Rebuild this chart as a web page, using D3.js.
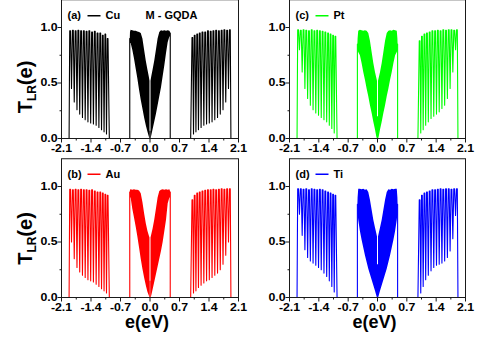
<!DOCTYPE html>
<html>
<head>
<meta charset="utf-8">
<script src="https://cdn.jsdelivr.net/npm/d3@7"></script>
<style>
  body { margin: 0; background: #fff; }
  text { font-family: "Liberation Sans", Arial, sans-serif; font-weight: bold; }
</style>
</head>
<body>
<svg id="chart" width="477" height="340"></svg>
<script>
// ---- axis ticks ----
const xTicks = [-2.1, -1.4, -0.7, 0.0, 0.7, 1.4, 2.1];
const xMinorTicks = [-1.75, -1.05, -0.35, 0.35, 1.05, 1.75];
const yTicks = [0.0, 0.5, 1.0];
const yMinorTicks = [0.25, 0.75];

// ---- series ----
const metals = ["Cu", "Pt", "Au", "Ti"];
const panelTags = ["(a)", "(c)", "(b)", "(d)"];
const metalColors = ["#000000", "#00ff00", "#ff0000", "#0000ff"];

// outer bands: band edges and resonance energies (eV)
const outerEdges = [-1.92, -0.965, 0.965, 1.92];
const outerPeaksLeft = [-1.895, -1.83, -1.765, -1.70, -1.635, -1.57, -1.505, -1.44, -1.375, -1.31, -1.245, -1.18, -1.12, -1.06, -1.005];
const outerPeaksRight = [1.005, 1.06, 1.12, 1.18, 1.245, 1.31, 1.375, 1.44, 1.505, 1.57, 1.635, 1.70, 1.765, 1.83, 1.895];

// Cu
const cuPeaksL = [0.97, 0.975, 0.97, 0.975, 0.97, 0.97, 0.965, 0.97, 0.96, 0.965, 0.95, 0.95, 0.93, 0.94, 0.90];
const cuValleysL = [0.45, 0.33, 0.26, 0.22, 0.19, 0.17, 0.15, 0.14, 0.13, 0.12, 0.10, 0.08, 0.06, 0.04];
const cuPeaksR = [0.91, 0.93, 0.94, 0.95, 0.96, 0.96, 0.97, 0.965, 0.97, 0.975, 0.97, 0.975, 0.98, 0.975, 0.98];
const cuValleysR = [0.04, 0.06, 0.08, 0.10, 0.12, 0.13, 0.14, 0.15, 0.17, 0.19, 0.22, 0.26, 0.33, 0.45];
// Pt
const ptPeaksL = [0.98, 0.975, 0.98, 0.975, 0.97, 0.98, 0.97, 0.975, 0.97, 0.965, 0.96, 0.95, 0.94, 0.93, 0.92];
const ptValleysL = [0.80, 0.60, 0.45, 0.36, 0.30, 0.26, 0.23, 0.21, 0.19, 0.17, 0.15, 0.12, 0.09, 0.05];
const ptPeaksR = [0.88, 0.92, 0.94, 0.95, 0.96, 0.97, 0.97, 0.975, 0.97, 0.98, 0.975, 0.98, 0.98, 0.975, 0.98];
const ptValleysR = [0.05, 0.08, 0.12, 0.15, 0.18, 0.20, 0.22, 0.24, 0.27, 0.30, 0.36, 0.45, 0.60, 0.80];
// Au
const auPeaksL = [0.975, 0.97, 0.975, 0.97, 0.975, 0.97, 0.97, 0.965, 0.97, 0.96, 0.95, 0.95, 0.94, 0.93, 0.92];
const auValleysL = [0.50, 0.35, 0.27, 0.23, 0.20, 0.18, 0.16, 0.15, 0.14, 0.12, 0.10, 0.08, 0.06, 0.04];
const auPeaksR = [0.88, 0.92, 0.94, 0.95, 0.96, 0.965, 0.97, 0.97, 0.975, 0.97, 0.975, 0.98, 0.975, 0.98, 0.98];
const auValleysR = [0.04, 0.06, 0.09, 0.11, 0.13, 0.15, 0.16, 0.18, 0.20, 0.22, 0.25, 0.30, 0.38, 0.50];
// Ti
const tiPeaksL = [0.98, 0.98, 0.975, 0.98, 0.97, 0.98, 0.975, 0.97, 0.975, 0.97, 0.96, 0.95, 0.94, 0.93, 0.92];
const tiValleysL = [0.75, 0.56, 0.43, 0.36, 0.33, 0.31, 0.29, 0.27, 0.25, 0.22, 0.19, 0.15, 0.10, 0.05];
const tiPeaksR = [0.88, 0.92, 0.94, 0.95, 0.96, 0.97, 0.97, 0.975, 0.98, 0.975, 0.98, 0.98, 0.975, 0.98, 0.98];
const tiValleysR = [0.04, 0.10, 0.16, 0.20, 0.24, 0.27, 0.29, 0.30, 0.31, 0.33, 0.36, 0.42, 0.53, 0.74];

// central band: envelope of the dense resonances, left and right lobes
const centerEL = [-0.48, -0.475, -0.46, -0.42, -0.38, -0.34, -0.30, -0.26, -0.22, -0.18, -0.14, -0.10, -0.06, -0.03, -0.012];
const centerER = [0.012, 0.03, 0.06, 0.10, 0.14, 0.18, 0.22, 0.26, 0.30, 0.34, 0.38, 0.42, 0.46, 0.475, 0.48];

const cuUpperL = [0.90, 0.96, 0.98, 0.975, 0.97, 0.97, 0.965, 0.96, 0.95, 0.90, 0.80, 0.70, 0.62, 0.56, 0.52];
const cuLowerL = [0.00, 0.86, 0.86, 0.80, 0.72, 0.63, 0.54, 0.44, 0.35, 0.27, 0.19, 0.12, 0.06, 0.02, 0.00];
const cuUpperR = [0.52, 0.56, 0.62, 0.70, 0.80, 0.90, 0.96, 0.975, 0.97, 0.975, 0.97, 0.975, 0.97, 0.96, 0.95];
const cuLowerR = [0.00, 0.03, 0.08, 0.15, 0.22, 0.30, 0.38, 0.46, 0.56, 0.66, 0.77, 0.87, 0.92, 0.92, 0.00];

const ptUpperL = [0.85, 0.90, 0.97, 0.98, 0.975, 0.97, 0.975, 0.97, 0.95, 0.88, 0.78, 0.68, 0.60, 0.55, 0.52];
const ptLowerL = [0.00, 0.80, 0.78, 0.75, 0.68, 0.60, 0.53, 0.45, 0.38, 0.30, 0.23, 0.15, 0.08, 0.02, 0.00];
const ptUpperR = [0.52, 0.55, 0.60, 0.68, 0.78, 0.88, 0.95, 0.97, 0.975, 0.97, 0.98, 0.975, 0.97, 0.90, 0.85];
const ptLowerR = [0.00, 0.02, 0.08, 0.15, 0.23, 0.30, 0.38, 0.45, 0.53, 0.60, 0.68, 0.75, 0.78, 0.80, 0.00];

const auUpperL = [0.95, 0.97, 0.975, 0.97, 0.975, 0.97, 0.97, 0.965, 0.94, 0.86, 0.76, 0.67, 0.60, 0.56, 0.54];
const auLowerL = [0.00, 0.90, 0.90, 0.80, 0.72, 0.64, 0.55, 0.45, 0.35, 0.26, 0.18, 0.11, 0.05, 0.02, 0.00];
const auUpperR = [0.54, 0.57, 0.62, 0.70, 0.80, 0.90, 0.96, 0.97, 0.975, 0.97, 0.975, 0.97, 0.975, 0.96, 0.95];
const auLowerR = [0.00, 0.02, 0.07, 0.14, 0.21, 0.28, 0.35, 0.42, 0.50, 0.60, 0.70, 0.85, 0.90, 0.90, 0.00];

const tiUpperL = [0.84, 0.90, 0.98, 0.98, 0.975, 0.98, 0.97, 0.975, 0.95, 0.88, 0.79, 0.70, 0.63, 0.58, 0.55];
const tiLowerL = [0.00, 0.75, 0.70, 0.60, 0.52, 0.45, 0.38, 0.32, 0.26, 0.21, 0.16, 0.11, 0.06, 0.02, 0.00];
const tiUpperR = [0.55, 0.58, 0.63, 0.70, 0.79, 0.88, 0.95, 0.975, 0.97, 0.98, 0.975, 0.98, 0.98, 0.90, 0.84];
const tiLowerR = [0.00, 0.02, 0.06, 0.11, 0.16, 0.21, 0.26, 0.32, 0.38, 0.45, 0.52, 0.60, 0.70, 0.75, 0.00];

// transmission at the band centre (e = 0)
const centerSpike = [0.07, 0.20, 0.15, 0.30];

const outerSeries = [
  [cuPeaksL, cuValleysL, cuPeaksR, cuValleysR],
  [ptPeaksL, ptValleysL, ptPeaksR, ptValleysR],
  [auPeaksL, auValleysL, auPeaksR, auValleysR],
  [tiPeaksL, tiValleysL, tiPeaksR, tiValleysR]
];
const centerSeries = [
  [cuUpperL, cuLowerL, cuUpperR, cuLowerR],
  [ptUpperL, ptLowerL, ptUpperR, ptLowerR],
  [auUpperL, auLowerL, auUpperR, auLowerR],
  [tiUpperL, tiLowerL, tiUpperR, tiLowerR]
];

// ---- layout ----
const svg = d3.select("#chart");
const columns = [[61.5, 238.5], [289.5, 465.5]];
const rows = [138.5, 297.5];
const unitPx = 111;
const yMax = 1.25;
const peakHalfWidth = 0.15;   // flat resonance top, as a fraction of the level spacing

// one resonance band: each level is a narrow flat-topped peak, sharp minima between levels
function bandPoints(peaks, heights, valleys) {
  const pts = [];
  peaks.forEach((e, i) => {
    const s = i < peaks.length - 1 ? peaks[i + 1] - e : e - peaks[i - 1];
    pts.push([e - peakHalfWidth * s, heights[i]], [e + peakHalfWidth * s, heights[i]]);
    if (i < valleys.length) pts.push([(e + peaks[i + 1]) / 2, valleys[i]]);
  });
  return pts;
}

function outerPoints(peaksL, valleysL, peaksR, valleysR, upperL, upperR) {
  const pts = [[-2.1, 0], [outerEdges[0], 0]];
  pts.push(...bandPoints(outerPeaksLeft, peaksL, valleysL));
  pts.push([outerEdges[1], 0]);
  const eL = centerEL[0], eR = centerER[centerER.length - 1];
  pts.push([eL, 0], [eL, upperL[0]], [eL, 0]);
  pts.push([eR, 0], [eR, upperR[upperR.length - 1]], [eR, 0]);
  pts.push([outerEdges[2], 0]);
  pts.push(...bandPoints(outerPeaksRight, peaksR, valleysR));
  pts.push([outerEdges[3], 0], [2.1, 0]);
  return pts;
}

metals.forEach((metal, idx) => {
  const col = idx % 2, row = Math.floor(idx / 2);
  const [xa, xb] = columns[col];
  const y0 = rows[row];
  const x = d3.scaleLinear().domain([-2.1, 2.1]).range([xa, xb]);
  const y = d3.scaleLinear().domain([0, yMax]).range([y0, y0 - yMax * unitPx]);
  const color = metalColors[idx];
  const g = svg.append("g");

  const clipId = "clip" + idx;
  g.append("clipPath").attr("id", clipId)
    .append("rect").attr("x", xa).attr("y", y(yMax)).attr("width", xb - xa).attr("height", y0 - y(yMax));
  const plot = g.append("g").attr("clip-path", `url(#${clipId})`);

  // central band lobes
  const [upL, loL, upR, loR] = centerSeries[idx];
  const area = d3.area().x(d => x(d[0])).y0(d => y(d[2])).y1(d => y(d[1]));
  plot.append("path").datum(centerEL.map((e, i) => [e, upL[i], loL[i]]))
    .attr("d", area).attr("fill", color);
  plot.append("path").datum(centerER.map((e, i) => [e, upR[i], loR[i]]))
    .attr("d", area).attr("fill", color);
  plot.append("line")
    .attr("x1", x(0)).attr("x2", x(0))
    .attr("y1", y(0)).attr("y2", y(centerSpike[idx]))
    .attr("stroke", color).attr("stroke-width", 1.2);

  // outer bands
  const [pL, vL, pR, vR] = outerSeries[idx];
  const line = d3.line().x(d => x(d[0])).y(d => y(d[1]));
  plot.append("path").datum(outerPoints(pL, vL, pR, vR, upL, upR))
    .attr("d", line).attr("fill", "none").attr("stroke", color)
    .attr("stroke-width", 1.1).attr("stroke-linejoin", "round");

  // frame
  g.append("rect").attr("x", xa).attr("y", y(yMax)).attr("width", xb - xa).attr("height", y0 - y(yMax))
    .attr("fill", "none").attr("stroke", "#1a1a1a").attr("stroke-width", 1);

  // x ticks
  xTicks.forEach(t => {
    g.append("line").attr("x1", x(t)).attr("x2", x(t)).attr("y1", y0).attr("y2", y0 + 4)
      .attr("stroke", "#1a1a1a");
    g.append("text").attr("transform", `translate(${x(t)},${y0 + 13}) scale(1.12,1)`)
      .attr("text-anchor", "middle").attr("font-size", 11).text(t.toFixed(1));
  });
  xMinorTicks.forEach(t => {
    g.append("line").attr("x1", x(t)).attr("x2", x(t)).attr("y1", y0).attr("y2", y0 + 2)
      .attr("stroke", "#1a1a1a");
  });
  // y ticks
  yTicks.forEach(t => {
    g.append("line").attr("x1", xa - 4).attr("x2", xa).attr("y1", y(t)).attr("y2", y(t))
      .attr("stroke", "#1a1a1a");
    g.append("text").attr("transform", `translate(${xa - 4},${y(t) + 3}) scale(1.12,1)`)
      .attr("text-anchor", "end").attr("font-size", 11).text(t.toFixed(1));
  });
  yMinorTicks.forEach(t => {
    g.append("line").attr("x1", xa - 2).attr("x2", xa).attr("y1", y(t)).attr("y2", y(t))
      .attr("stroke", "#1a1a1a");
  });

  // legend
  const ly = y(yMax) + (row === 0 ? 15.5 : 15);
  g.append("text").attr("x", xa + 6).attr("y", ly + 4).attr("font-size", 11).text(panelTags[idx]);
  g.append("line").attr("x1", xa + 26).attr("x2", xa + 39).attr("y1", ly + 0.5).attr("y2", ly + 0.5)
    .attr("stroke", color).attr("stroke-width", 1.5);
  g.append("text").attr("x", xa + 44).attr("y", ly + 4).attr("font-size", 11).text(metal);
  if (idx === 0) {
    g.append("text").attr("x", xa + 84).attr("y", ly + 4).attr("font-size", 11).text("M - GQDA");
  }

  // axis titles
  if (col === 0) {
    const cy = row === 0 ? 87 : 238.5;
    const t = g.append("text").attr("transform", `translate(32,${cy}) rotate(-90)`)
      .attr("text-anchor", "middle").attr("font-size", 20);
    t.append("tspan").text("T");
    t.append("tspan").attr("font-size", 12).attr("dy", 4).text("LR");
    t.append("tspan").attr("dy", -4).text("(e)");
  }
  if (row === 1) {
    g.append("text").attr("x", (xa + xb) / 2 - 3).attr("y", 328)
      .attr("text-anchor", "middle").attr("font-size", 18).text("e(eV)");
  }
});
</script>
</body>
</html>
